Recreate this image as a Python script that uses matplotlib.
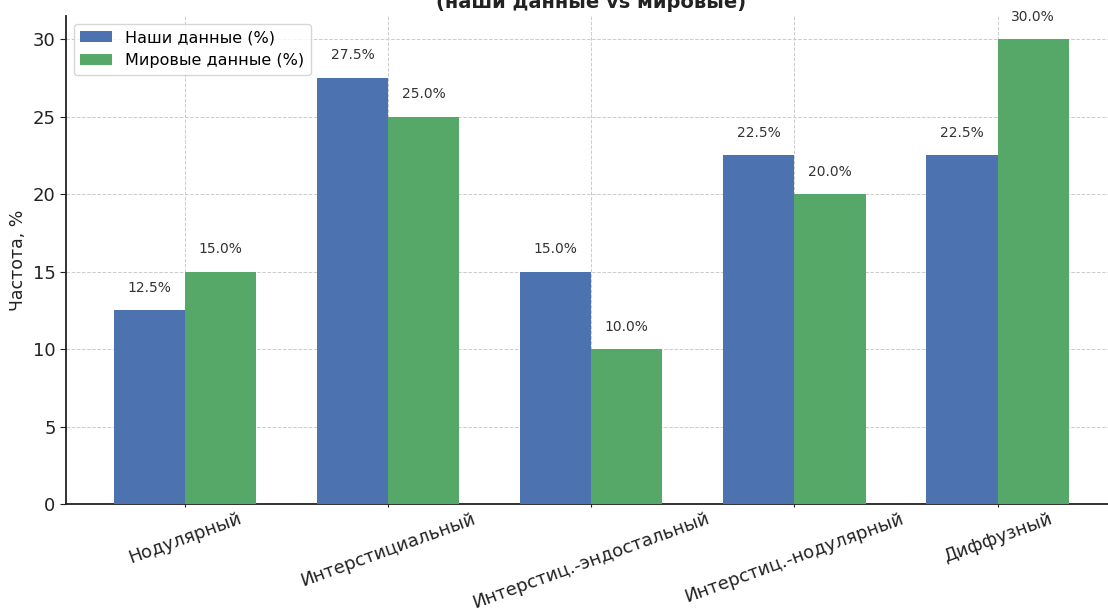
import matplotlib.pyplot as plt
import numpy as np

# данные
categories = ['Нодулярный', 'Интерстициальный', 'Интерстиц.-эндостальный',
              'Интерстиц.-нодулярный', 'Диффузный']
our_data = [12.5, 27.5, 15.0, 22.5, 22.5]
world_data = [15.0, 25.0, 10.0, 20.0, 30.0]
y_ticks = [0, 5, 10, 15, 20, 25, 30]

x = np.arange(len(categories))
width = 0.35

fig = plt.figure(figsize=(11.08, 6.14), dpi=100)
ax = fig.add_axes([0.0596, 0.179, 0.948, 0.795])

ax.bar(x - width / 2, our_data, width, color='#4C72B0', label='Наши данные (%)', zorder=3)
ax.bar(x + width / 2, world_data, width, color='#55A868', label='Мировые данные (%)', zorder=3)

# подписи над столбцами
for xi, v in zip(x - width / 2, our_data):
    ax.text(xi, v + 1.0, f'{v:.1f}%', ha='center', va='bottom', fontsize=10, color='#333333')
for xi, v in zip(x + width / 2, world_data):
    ax.text(xi, v + 1.0, f'{v:.1f}%', ha='center', va='bottom', fontsize=10, color='#333333')

ax.set_xticks(x)
ax.set_xticklabels(categories, rotation=20, ha='center', fontsize=13, color='#222222')
ax.set_yticks(y_ticks)
ax.tick_params(axis='y', labelsize=13, labelcolor='#222222', length=4, color='#222222')
ax.tick_params(axis='x', length=2, pad=2, color='#222222')
ax.set_ylim(0, 31.5)
ax.set_ylabel('Частота, %', fontsize=12.5, color='#222222')
ax.set_title('(наши данные vs мировые)', fontsize=14, fontweight='bold', color='#222222')

ax.grid(True, linestyle='--', color='#cccccc', linewidth=0.7, zorder=0)
ax.spines['top'].set_visible(False)
ax.spines['right'].set_visible(False)
ax.spines['left'].set_linewidth(1.3)
ax.spines['bottom'].set_linewidth(1.3)
ax.spines['left'].set_color('#222222')
ax.spines['bottom'].set_color('#222222')

ax.legend(loc='upper left', fontsize=11.5)

fig.savefig('out.png', dpi=100)
